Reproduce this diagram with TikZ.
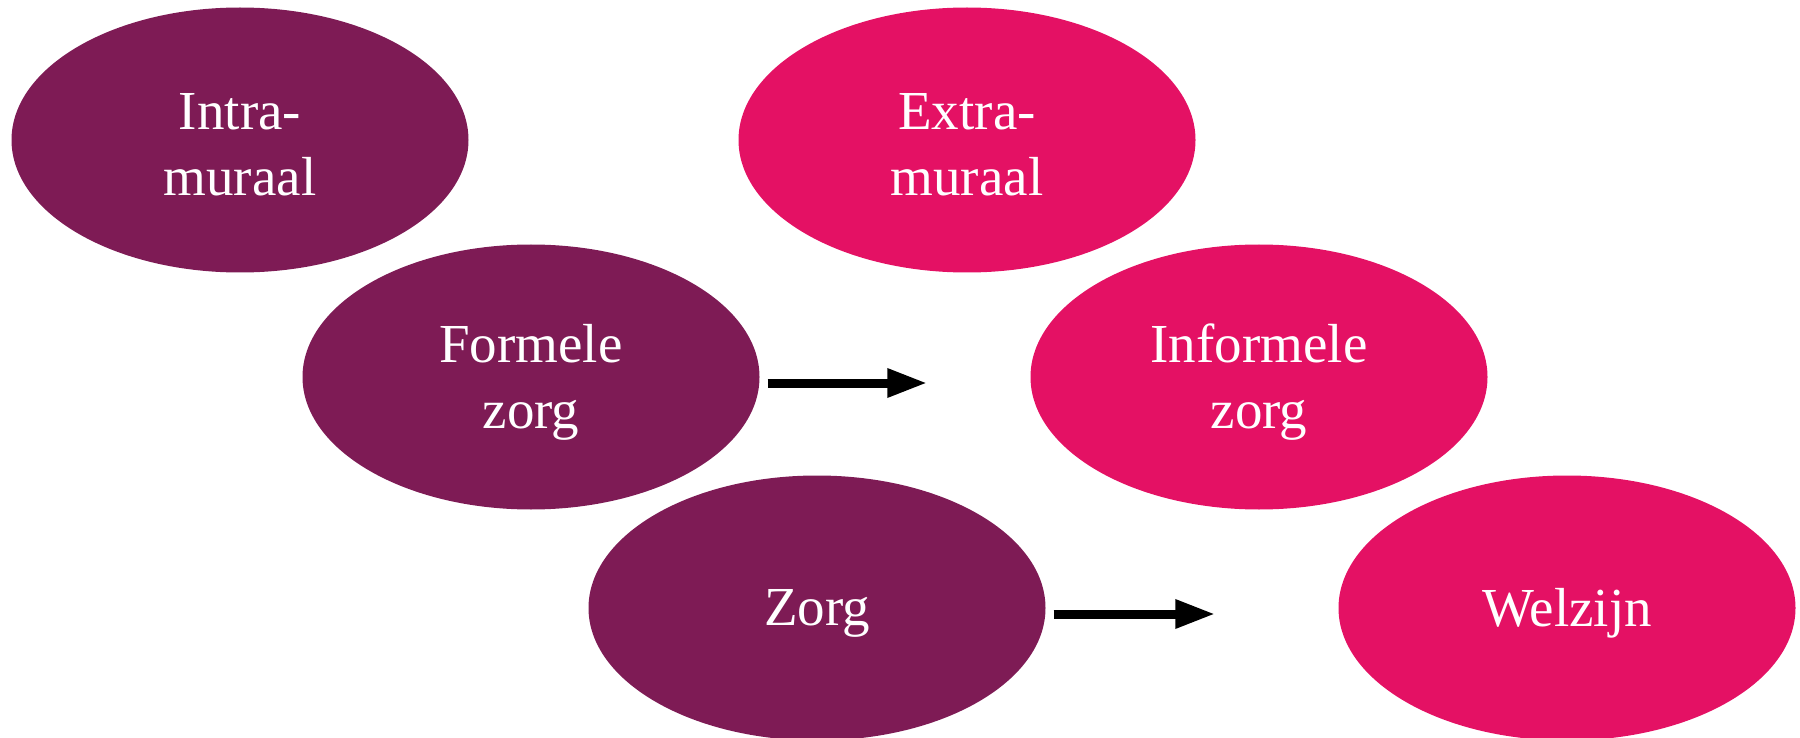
\documentclass[tikz,border=0pt]{standalone}
\usepackage{fontspec}
\setmainfont{Liberation Serif}
\usetikzlibrary{shapes.geometric,arrows.meta}
\definecolor{plum}{RGB}{126,27,85}
\definecolor{rose}{RGB}{228,17,100}
\tikzset{
  blob/.style={ellipse, minimum width=457pt, minimum height=265pt, inner sep=0pt},
  lab/.style={text=white, align=center, font=\fontsize{55}{66}\selectfont, inner sep=0pt, yshift=-5pt},
  intrablob/.style={blob, fill=plum},
  extrablob/.style={blob, fill=rose},
  arr/.style={line width=9pt, -{Triangle[length=40pt,width=27pt]}, black}
}
\begin{document}
\begin{tikzpicture}[x=1pt,y=-1pt]
\useasboundingbox (0,0) rectangle (1800,738);
\node[intrablob, label={[lab]center:Intra-\\muraal}] (intra) at (240,140) {};
\node[extrablob, label={[lab]center:Extra-\\muraal}] (extra) at (967,140) {};
\node[intrablob, label={[lab]center:Formele\\zorg}] (formele) at (531,377) {};
\node[extrablob, label={[lab]center:Informele\\zorg}] (informele) at (1259,377) {};
\node[intrablob, label={[lab]center:Zorg}] (zorg) at (817,608) {};
\node[extrablob, label={[lab]center:Welzijn}] (welzijn) at (1567,608) {};
\draw[arr] ([xshift=8pt,yshift=-6pt]formele.east) -- ([xshift=-103pt,yshift=-6pt]informele.west);
\draw[arr] ([xshift=8pt,yshift=-6pt]zorg.east) -- ([xshift=-123pt,yshift=-6pt]welzijn.west);
\end{tikzpicture}
\end{document}
